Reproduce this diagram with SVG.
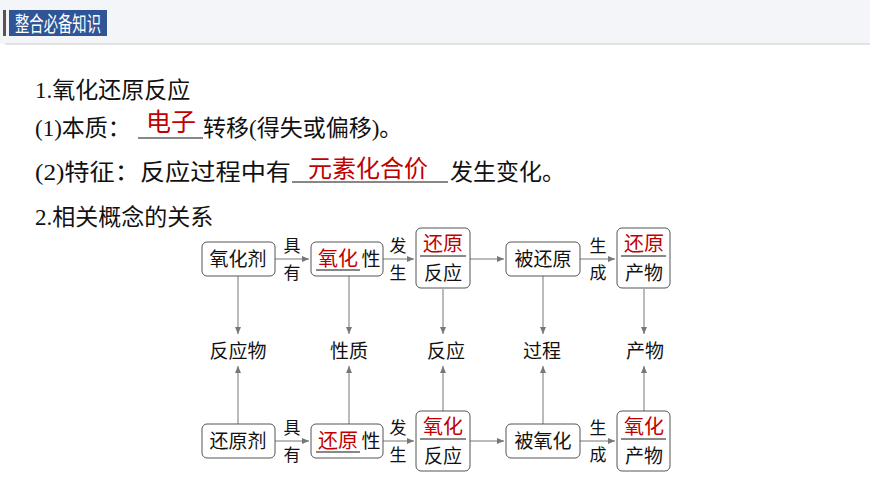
<svg xmlns="http://www.w3.org/2000/svg" width="870" height="489" viewBox="0 0 870 489">
<defs>
<marker id="ar" markerWidth="8" markerHeight="8" refX="7" refY="4" orient="auto" markerUnits="userSpaceOnUse"><path d="M0,1 L7,4 L0,7 Z" fill="#777"/></marker>
<style>
text{font-family:"Liberation Serif","Noto Sans CJK SC",serif;fill:#111}
.h{font-size:23px}
.n{font-size:19px}
.r{fill:#c00000;font-family:"Noto Sans CJK SC",sans-serif}
.box{fill:#fff;stroke:#555;stroke-width:1}
.c{stroke:#777;stroke-width:1;fill:none}
</style>
</defs>
<rect width="870" height="489" fill="#fff"/>
<rect x="0" y="0" width="870" height="44" fill="#f3f5f9"/>
<line x1="5" y1="44" x2="870" y2="44" stroke="#ccc"/>
<rect x="3" y="10" width="3" height="26" fill="#555"/>
<rect x="9" y="10" width="98" height="26" fill="#2f5597"/>
<text x="58" y="31" text-anchor="middle" textLength="86" lengthAdjust="spacingAndGlyphs" style="font-family:'Noto Sans CJK SC',sans-serif;font-size:21px;fill:#fff">整合必备知识</text>
<text x="35" y="98" class="h">1.氧化还原反应</text>
<text x="35" y="136" class="h">(1)本质：<tspan x="203">转移(得失或偏移)。</tspan></text>
<line x1="138" y1="138" x2="203" y2="138" stroke="#111"/>
<text x="171" y="131" text-anchor="middle" class="h r" style="font-size:25px">电子</text>
<text x="35" y="180" class="h" textLength="256" lengthAdjust="spacingAndGlyphs">(2)特征：反应过程中有</text>
<text x="450" y="180" class="h">发生变化。</text>
<line x1="292" y1="182" x2="448" y2="182" stroke="#111"/>
<text x="368" y="177" text-anchor="middle" class="h r" style="font-size:24px">元素化合价</text>
<text x="35" y="225" class="h">2.相关概念的关系</text>
<g id="connectors">
<line class="c" x1="275" y1="259" x2="309" y2="259" marker-end="url(#ar)"/>
<line class="c" x1="383" y1="259" x2="414" y2="259" marker-end="url(#ar)"/>
<line class="c" x1="470" y1="259" x2="504" y2="259" marker-end="url(#ar)"/>
<line class="c" x1="580" y1="259" x2="615" y2="259" marker-end="url(#ar)"/>
<line class="c" x1="275" y1="441" x2="309" y2="441" marker-end="url(#ar)"/>
<line class="c" x1="383" y1="441" x2="414" y2="441" marker-end="url(#ar)"/>
<line class="c" x1="470" y1="441" x2="504" y2="441" marker-end="url(#ar)"/>
<line class="c" x1="580" y1="441" x2="615" y2="441" marker-end="url(#ar)"/>
<line class="c" x1="238" y1="276" x2="238" y2="334" marker-end="url(#ar)"/>
<line class="c" x1="349" y1="276" x2="349" y2="334" marker-end="url(#ar)"/>
<line class="c" x1="443" y1="289" x2="443" y2="334" marker-end="url(#ar)"/>
<line class="c" x1="543" y1="276" x2="543" y2="334" marker-end="url(#ar)"/>
<line class="c" x1="644" y1="289" x2="644" y2="334" marker-end="url(#ar)"/>
<line class="c" x1="238" y1="424" x2="238" y2="366" marker-end="url(#ar)"/>
<line class="c" x1="349" y1="424" x2="349" y2="366" marker-end="url(#ar)"/>
<line class="c" x1="443" y1="411" x2="443" y2="366" marker-end="url(#ar)"/>
<line class="c" x1="543" y1="424" x2="543" y2="366" marker-end="url(#ar)"/>
<line class="c" x1="644" y1="411" x2="644" y2="366" marker-end="url(#ar)"/>
<text x="292" y="252" class="n" text-anchor="middle" style="font-size:17px">具</text><text x="292" y="279" class="n" text-anchor="middle" style="font-size:17px">有</text>
<text x="398" y="252" class="n" text-anchor="middle" style="font-size:17px">发</text><text x="398" y="279" class="n" text-anchor="middle" style="font-size:17px">生</text>
<text x="598" y="252" class="n" text-anchor="middle" style="font-size:17px">生</text><text x="598" y="279" class="n" text-anchor="middle" style="font-size:17px">成</text>
<text x="292" y="434" class="n" text-anchor="middle" style="font-size:17px">具</text><text x="292" y="461" class="n" text-anchor="middle" style="font-size:17px">有</text>
<text x="398" y="434" class="n" text-anchor="middle" style="font-size:17px">发</text><text x="398" y="461" class="n" text-anchor="middle" style="font-size:17px">生</text>
<text x="598" y="434" class="n" text-anchor="middle" style="font-size:17px">生</text><text x="598" y="461" class="n" text-anchor="middle" style="font-size:17px">成</text>
</g>
<g id="n1"><rect class="box" x="202" y="242" width="73" height="34" rx="5"/><text x="238" y="266" class="n" text-anchor="middle">氧化剂</text></g>
<g id="n2"><rect class="box" x="311" y="242" width="72" height="34" rx="5"/><text x="338" y="266" class="r" style="font-size:20px" text-anchor="middle">氧化</text><line x1="316" y1="270" x2="360" y2="270" stroke="#111"/><text x="371" y="266" class="n" text-anchor="middle">性</text></g>
<g id="n3"><rect class="box" x="416" y="228" width="54" height="60" rx="5"/><text x="443" y="251" class="r" style="font-size:20px" text-anchor="middle">还原</text><line x1="420" y1="256" x2="466" y2="256" stroke="#111"/><text x="443" y="280" class="n" text-anchor="middle">反应</text></g>
<g id="n4"><rect class="box" x="506" y="242" width="74" height="34" rx="5"/><text x="543" y="266" class="n" text-anchor="middle">被还原</text></g>
<g id="n5"><rect class="box" x="617" y="228" width="53" height="60" rx="5"/><text x="644" y="251" class="r" style="font-size:20px" text-anchor="middle">还原</text><line x1="621" y1="256" x2="666" y2="256" stroke="#111"/><text x="644" y="280" class="n" text-anchor="middle">产物</text></g>
<g id="m1"><text x="238" y="358" class="n" text-anchor="middle">反应物</text></g>
<g id="m2"><text x="349" y="358" class="n" text-anchor="middle">性质</text></g>
<g id="m3"><text x="446" y="358" class="n" text-anchor="middle">反应</text></g>
<g id="m4"><text x="542" y="358" class="n" text-anchor="middle">过程</text></g>
<g id="m5"><text x="645" y="358" class="n" text-anchor="middle">产物</text></g>
<g id="b1"><rect class="box" x="202" y="424" width="73" height="34" rx="5"/><text x="238" y="448" class="n" text-anchor="middle">还原剂</text></g>
<g id="b2"><rect class="box" x="311" y="424" width="72" height="34" rx="5"/><text x="338" y="448" class="r" style="font-size:20px" text-anchor="middle">还原</text><line x1="316" y1="452" x2="360" y2="452" stroke="#111"/><text x="371" y="448" class="n" text-anchor="middle">性</text></g>
<g id="b3"><rect class="box" x="416" y="411" width="54" height="60" rx="5"/><text x="443" y="434" class="r" style="font-size:20px" text-anchor="middle">氧化</text><line x1="420" y1="439" x2="466" y2="439" stroke="#111"/><text x="443" y="463" class="n" text-anchor="middle">反应</text></g>
<g id="b4"><rect class="box" x="506" y="424" width="74" height="34" rx="5"/><text x="543" y="448" class="n" text-anchor="middle">被氧化</text></g>
<g id="b5"><rect class="box" x="617" y="411" width="53" height="60" rx="5"/><text x="644" y="434" class="r" style="font-size:20px" text-anchor="middle">氧化</text><line x1="621" y1="439" x2="666" y2="439" stroke="#111"/><text x="644" y="463" class="n" text-anchor="middle">产物</text></g>
</svg>
